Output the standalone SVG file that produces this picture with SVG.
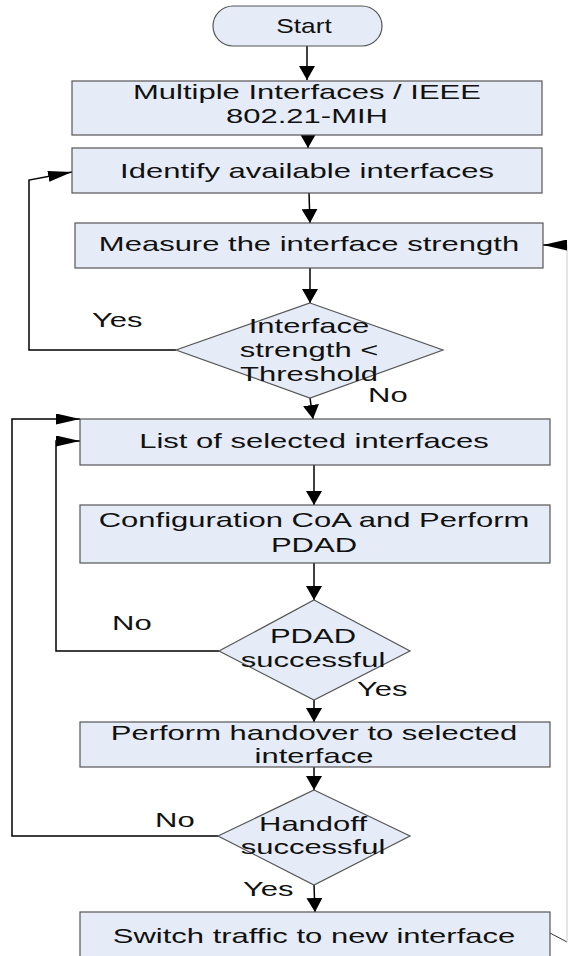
<svg xmlns="http://www.w3.org/2000/svg" width="568" height="956" viewBox="0 0 568 956">
  <style>
    .node { fill: #e6ecf7; stroke: #555555; stroke-width: 1.2; }
    .lbl { font-family: "Liberation Sans", Arial, sans-serif; font-size: 20px; fill: #111111; text-anchor: middle; }
    .tag { font-family: "Liberation Sans", Arial, sans-serif; font-size: 20px; fill: #111111; text-anchor: start; }
    .wire { fill: none; stroke: #000000; stroke-width: 1.5; }
    .wire-v { fill: none; stroke: #000000; stroke-width: 1.5; marker-end: url(#headV); }
    .wire-h { fill: none; stroke: #000000; stroke-width: 1.5; marker-end: url(#headH); }
  </style>
  <defs>
    <marker id="headV" viewBox="0 0 14 16" refX="14" refY="8" markerWidth="14" markerHeight="16" markerUnits="userSpaceOnUse" orient="auto">
      <path d="M0,0 L14,8 L0,16 z" fill="#000000"/>
    </marker>
    <marker id="headH" viewBox="0 0 24 11" refX="24" refY="5.5" markerWidth="24" markerHeight="11" markerUnits="userSpaceOnUse" orient="auto">
      <path d="M0,0 L24,5.5 L0,11 z" fill="#000000"/>
    </marker>
  </defs>

  <rect width="568" height="956" fill="#ffffff"/>

  <!-- connectors -->
  <g id="connectors">
    <path class="wire-v" d="M307,46 L307,80"/>
    <path class="wire-v" d="M308,135 L308,148"/>
    <path class="wire-v" d="M309,193 L310,223"/>
    <path class="wire-v" d="M310,268 L310,303"/>
    <path class="wire-h" d="M176,350 L29,350 L29,180 L72,172"/>
    <path class="wire-v" d="M310,398 L313,419"/>
    <path class="wire-v" d="M314,465 L314,505"/>
    <path class="wire-v" d="M314,563 L314,600"/>
    <path class="wire-h" d="M219,651 L56,651 L56,441 L80,441"/>
    <path class="wire-v" d="M314,700 L314,722"/>
    <path class="wire-v" d="M314,767 L314,790"/>
    <path class="wire-h" d="M218,836 L12,836 L12,419 L80,419"/>
    <path class="wire-v" d="M314,885 L315,912"/>
    <path d="M550,933 L567,942" fill="none" stroke="#333333" stroke-width="1"/>
    <path d="M567,942 L567,245" fill="none" stroke="#cccccc" stroke-width="1"/>
    <path class="wire-h" d="M567,245 L543,245"/>
    <text class="tag" transform="translate(92,327) scale(1.55,1)">Yes</text>
    <text class="tag" transform="translate(368,402) scale(1.55,1)">No</text>
    <text class="tag" transform="translate(112,630) scale(1.55,1)">No</text>
    <text class="tag" transform="translate(357,696) scale(1.55,1)">Yes</text>
    <text class="tag" transform="translate(155,827) scale(1.55,1)">No</text>
    <text class="tag" transform="translate(243,896) scale(1.55,1)">Yes</text>
  </g>

  <g id="start">
    <rect class="node" x="213" y="6" width="169" height="40" rx="20" ry="20"/>
    <text class="lbl" transform="translate(304,33) scale(1.25,1)" style="font-size:21px">Start</text>
  </g>

  <g id="mih">
    <rect class="node" x="72" y="81" width="470" height="54"/>
    <text class="lbl" transform="translate(307,99) scale(1.55,1)">Multiple Interfaces / IEEE</text>
    <text class="lbl" transform="translate(307,123) scale(1.55,1)">802.21-MIH</text>
  </g>

  <g id="identify">
    <rect class="node" x="72" y="148" width="470" height="45"/>
    <text class="lbl" transform="translate(307,178) scale(1.55,1)">Identify available interfaces</text>
  </g>

  <g id="measure">
    <rect class="node" x="75" y="223" width="468" height="45"/>
    <text class="lbl" transform="translate(309,251) scale(1.55,1)">Measure the interface strength</text>
  </g>

  <g id="threshold">
    <polygon class="node" points="310,303 443,350 310,398 176,350"/>
    <text class="lbl" transform="translate(309,333) scale(1.55,1)">Interface</text>
    <text class="lbl" transform="translate(309,357) scale(1.55,1)">strength &lt;</text>
    <text class="lbl" transform="translate(309,381) scale(1.55,1)">Threshold</text>
  </g>

  <g id="selected">
    <rect class="node" x="80" y="419" width="470" height="46"/>
    <text class="lbl" transform="translate(314,448) scale(1.55,1)">List of selected interfaces</text>
  </g>

  <g id="configure">
    <rect class="node" x="80" y="505" width="470" height="58"/>
    <text class="lbl" transform="translate(314,527) scale(1.55,1)">Configuration CoA and Perform</text>
    <text class="lbl" transform="translate(314,552) scale(1.55,1)">PDAD</text>
  </g>

  <g id="pdad">
    <polygon class="node" points="314,600 410,651 314,700 219,651"/>
    <text class="lbl" transform="translate(313,643) scale(1.55,1)">PDAD</text>
    <text class="lbl" transform="translate(313,667) scale(1.55,1)">successful</text>
  </g>

  <g id="handover">
    <rect class="node" x="80" y="722" width="470" height="45"/>
    <text class="lbl" transform="translate(314,740) scale(1.55,1)">Perform handover to selected</text>
    <text class="lbl" transform="translate(314,763) scale(1.55,1)">interface</text>
  </g>

  <g id="handoff">
    <polygon class="node" points="314,790 410,836 314,885 218,836"/>
    <text class="lbl" transform="translate(313,831) scale(1.55,1)">Handoff</text>
    <text class="lbl" transform="translate(313,854) scale(1.55,1)">successful</text>
  </g>

  <g id="switch">
    <rect class="node" x="80" y="912" width="470" height="60"/>
    <text class="lbl" transform="translate(314,943) scale(1.55,1)">Switch traffic to new interface</text>
  </g>
</svg>
